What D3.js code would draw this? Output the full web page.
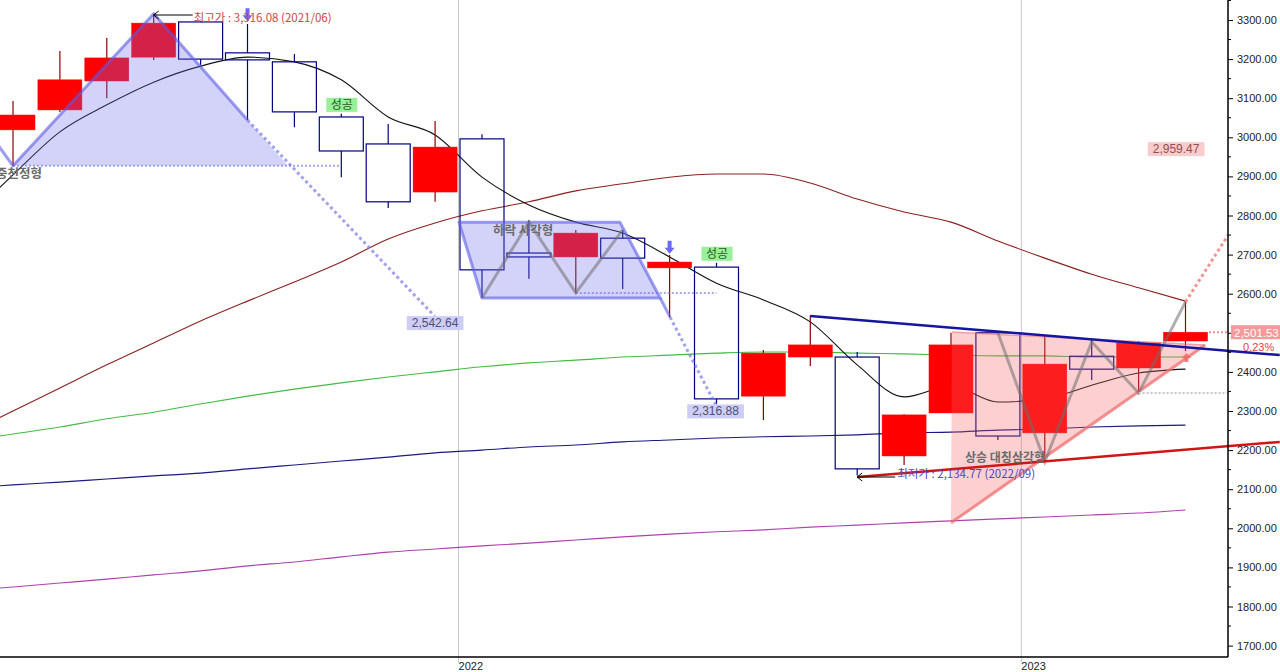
<!DOCTYPE html>
<html>
<head>
<meta charset="utf-8">
<script src="https://cdn.jsdelivr.net/npm/d3@7"></script>
<style>
body { margin: 0; background: #fff; }
svg { display: block; }
text { font-family: "Liberation Sans", Arial, "Noto Sans CJK KR", sans-serif; }
.kr { font-family: "Noto Sans CJK KR", "Liberation Sans", sans-serif; }
</style>
</head>
<body>
<div id="chart"></div>
<script>
// monthly candles, 2021/03 .. 2023/04 (index 0..25)
var months = ["2021/03","2021/04","2021/05","2021/06","2021/07","2021/08","2021/09","2021/10","2021/11","2021/12",
              "2022/01","2022/02","2022/03","2022/04","2022/05","2022/06","2022/07","2022/08","2022/09","2022/10",
              "2022/11","2022/12","2023/01","2023/02","2023/03","2023/04"];
var opens  = [3019, 3070, 3144, 3205, 3295, 3216, 3193, 3052, 2983, 2860, 2996, 2704, 2694, 2742, 2666, 2668, 2338, 2438, 2438, 2185, 2295, 2500, 2244, 2440, 2410, 2479];
var highs  = [3093, 3221, 3254, 3316.08, 3296, 3290, 3213, 3060, 3034, 3042, 3008, 2788, 2763, 2763, 2699, 2679, 2456, 2545, 2451, 2292, 2500, 2502, 2494, 2484, 2479, 2579];
var lows   = [2927, 3065, 3100, 3198, 3185, 3044, 3026, 2898, 2819, 2835, 2589, 2638, 2602, 2612, 2540, 2316.88, 2277, 2415, 2134.77, 2162, 2295, 2226, 2170, 2379, 2343, 2453];
var closes = [3057, 3147, 3203, 3292, 3200, 3198, 3065, 2965, 2835, 2975, 2661, 2694, 2755, 2691, 2681, 2331, 2448, 2469, 2152, 2290, 2469, 2236, 2420, 2407, 2474, 2501.53];

// moving averages, index -1 .. 25
var maStart = -1;
var ma5   = [2788, 2904, 3014, 3083, 3141, 3182, 3205, 3193, 3147, 3052, 3006, 2898, 2827, 2783, 2755, 2694, 2627, 2584, 2528, 2418, 2336, 2364, 2323, 2331, 2366, 2397, 2407];
var ma20  = [2241, 2300, 2359, 2418, 2474, 2530, 2581, 2630, 2681, 2740, 2781, 2812, 2835, 2863, 2881, 2898, 2906, 2906, 2883, 2842, 2809, 2783, 2735, 2691, 2650, 2615, 2581];
var ma60  = [2223, 2241, 2259, 2280, 2297, 2318, 2338, 2356, 2372, 2387, 2400, 2413, 2423, 2430, 2438, 2443, 2448, 2451, 2451, 2448, 2446, 2443, 2441, 2441, 2438, 2438, 2438];
var ma120 = [2103, 2111, 2118, 2126, 2134, 2141, 2152, 2162, 2172, 2182, 2193, 2200, 2208, 2213, 2221, 2226, 2231, 2234, 2236, 2239, 2244, 2246, 2251, 2254, 2259, 2262, 2264];
var ma240 = [1840, 1850, 1860, 1870, 1881, 1891, 1904, 1914, 1927, 1939, 1947, 1955, 1962, 1970, 1978, 1985, 1991, 1996, 2003, 2008, 2014, 2019, 2024, 2029, 2034, 2039, 2047];

// pattern annotations as [month index, price]
var topLine   = [[-1, 3093], [0, 2927], [3, 3316.08], [5, 3044]];
var topProj   = [[5, 3044], [8.99, 2542.64]];
var topFill   = [[0, 2927], [3, 3316.08], [5.86, 2927]];
var topNeck   = [[0, 2927], [6.97, 2927]];
var rectFill  = [[9.51, 2783], [12.94, 2783], [13.8, 2589], [10, 2589]];
var rectExt   = [[13.8, 2589], [14.01, 2540]];
var rectProj  = [[14.01, 2540], [14.98, 2316.88]];
var rectZig   = [[10, 2589], [11, 2783], [12, 2602], [13, 2763]];
var rectNeck  = [[12, 2602], [15, 2602]];
var triFill   = [[20.02, 2502], [25.42, 2469], [20, 2014]];
var triUpper  = [[20.02, 2502], [25.42, 2469]];
var triLower  = [[20, 2014], [25.42, 2469]];
var triZig    = [[21, 2500], [22, 2170], [23, 2477], [24, 2346], [25, 2579]];
var triProj   = [[25, 2579], [25.91, 2750]];
var trendHigh = [[17, 2543], [27.01, 2443]];
var trendLow  = [[18, 2131], [27.01, 2221]];

var patternNames = ["이중천정형", "하락 사각형", "상승 대칭삼각형"];
var successMonths = [7, 15];
var downArrowAt = [[5, 3297], [14, 2702]];
var targetValues = [2542.64, 2316.88, 2959.47];
var lastPrice = 2501.53;
var lastChange = "0.23%";
var yTicks = d3.range(1700, 3301, 100);
var yMinor = d3.range(1750, 3351, 100);
var yearStarts = [[10, "2022"], [22, "2023"]];

var width = 1280, height = 672;
var axisX = 1228, axisBottom = 657;

var svg = d3.select("#chart").append("svg")
    .attr("width", width)
    .attr("height", height);

var x = d3.scaleLinear().domain([0, 25]).range([13, 1185.5]);
var y = d3.scaleLinear().domain([1700, 3300]).range([645.6, 20]);
var line = d3.line().x(function(d) { return x(d[0]); }).y(function(d) { return y(d[1]); });
var smooth = d3.line().curve(d3.curveMonotoneX).x(function(d) { return x(d[0]); }).y(function(d) { return y(d[1]); });

svg.append("clipPath").attr("id", "plot")
  .append("rect").attr("x", 0).attr("y", 0).attr("width", axisX).attr("height", axisBottom);

// year grid lines
svg.selectAll(".grid").data(yearStarts).enter().append("line")
    .attr("x1", function(d) { return x(d[0] - 0.5); })
    .attr("x2", function(d) { return x(d[0] - 0.5); })
    .attr("y1", 0).attr("y2", axisBottom + 6)
    .attr("stroke", "#c8c8c8").attr("stroke-width", 1);

var plot = svg.append("g").attr("clip-path", "url(#plot)");

// moving averages
function maPts(arr) { return arr.map(function(v, k) { return [k + maStart, v]; }); }
var maList = [[ma240, "#b040b0"], [ma120, "#1a1a80"], [ma60, "#44bb44"], [ma20, "#8b2020"], [ma5, "#111"]];
maList.forEach(function(m) {
  plot.append("path").attr("d", smooth(maPts(m[0])))
    .attr("fill", "none").attr("stroke", m[1]).attr("stroke-width", 1.1);
});

// candles
var bw = 44;
var candles = plot.selectAll(".candle").data(months).enter().append("g");
candles.each(function(d, i) {
  var g = d3.select(this);
  var up = closes[i] >= opens[i];
  var col = up ? "#ff0000" : "#000080";
  var top = y(Math.max(opens[i], closes[i])), bot = y(Math.min(opens[i], closes[i]));
  var wick = up ? "#8b0000" : "#000080";
  g.append("line").attr("x1", x(i)).attr("x2", x(i)).attr("y1", y(highs[i])).attr("y2", top)
    .attr("stroke", wick).attr("stroke-width", 1.2);
  g.append("line").attr("x1", x(i)).attr("x2", x(i)).attr("y1", bot).attr("y2", y(lows[i]))
    .attr("stroke", wick).attr("stroke-width", 1.2);
  g.append("rect")
    .attr("x", x(i) - bw / 2).attr("y", top)
    .attr("width", bw).attr("height", Math.max(bot - top, 1.5))
    .attr("fill", up ? "#ff0000" : "none")
    .attr("stroke", col).attr("stroke-width", up ? 0.5 : 1.2);
});

// pattern 1 : double top
plot.append("path").attr("d", line(topFill) + "Z").attr("fill", "rgba(110,110,240,0.3)");
plot.append("path").attr("d", line(topNeck)).attr("fill", "none")
    .attr("stroke", "rgba(110,110,230,0.6)").attr("stroke-width", 2).attr("stroke-dasharray", "2,2");
plot.append("path").attr("d", line(topLine)).attr("fill", "none")
    .attr("stroke", "rgba(90,90,230,0.6)").attr("stroke-width", 3).attr("stroke-linejoin", "round");
plot.append("path").attr("d", line(topProj)).attr("fill", "none")
    .attr("stroke", "rgba(110,110,230,0.65)").attr("stroke-width", 3).attr("stroke-dasharray", "3,3");

// pattern 2 : descending rectangle
plot.append("path").attr("d", line(rectFill) + "Z").attr("fill", "rgba(110,110,240,0.3)")
    .attr("stroke", "rgba(90,90,230,0.6)").attr("stroke-width", 3).attr("stroke-linejoin", "round");
plot.append("path").attr("d", line(rectExt)).attr("fill", "none")
    .attr("stroke", "rgba(90,90,230,0.6)").attr("stroke-width", 3);
plot.append("path").attr("d", line(rectProj)).attr("fill", "none")
    .attr("stroke", "rgba(110,110,230,0.65)").attr("stroke-width", 3).attr("stroke-dasharray", "3,3");
plot.append("path").attr("d", line(rectNeck)).attr("fill", "none")
    .attr("stroke", "rgba(110,110,230,0.6)").attr("stroke-width", 2).attr("stroke-dasharray", "2,2");
plot.append("path").attr("d", line(rectZig)).attr("fill", "none")
    .attr("stroke", "rgba(110,110,110,0.55)").attr("stroke-width", 3);

// pattern 3 : ascending symmetric triangle
plot.append("path").attr("d", line(triFill) + "Z").attr("fill", "rgba(245,100,100,0.3)");
plot.append("path").attr("d", line(triUpper)).attr("fill", "none")
    .attr("stroke", "rgba(240,110,110,0.6)").attr("stroke-width", 1.5);
plot.append("path").attr("d", line(triLower)).attr("fill", "none")
    .attr("stroke", "rgba(240,110,110,0.75)").attr("stroke-width", 3);
plot.append("path").attr("d", line(triZig)).attr("fill", "none")
    .attr("stroke", "rgba(110,110,110,0.55)").attr("stroke-width", 3);
plot.append("path").attr("d", line(triProj)).attr("fill", "none")
    .attr("stroke", "rgba(240,110,110,0.75)").attr("stroke-width", 3).attr("stroke-dasharray", "3,3");

// horizontal dotted guides
svg.append("line").attr("x1", x(24)).attr("x2", axisX).attr("y1", y(2346)).attr("y2", y(2346))
    .attr("stroke", "#c8c8c8").attr("stroke-width", 2).attr("stroke-dasharray", "2,2");
svg.append("line").attr("x1", x(25.5)).attr("x2", axisX).attr("y1", y(lastPrice)).attr("y2", y(lastPrice))
    .attr("stroke", "#f09090").attr("stroke-width", 2).attr("stroke-dasharray", "2,2");

// trend lines
svg.append("path").attr("d", line(trendHigh)).attr("stroke", "#1515a0").attr("stroke-width", 2.5).attr("fill", "none");
svg.append("path").attr("d", line(trendLow)).attr("stroke", "#d01515").attr("stroke-width", 2.5).attr("fill", "none");

// pink up arrow on the triangle
var pa = [x(25.02), y(2443)];
svg.append("path")
    .attr("d", "M" + pa[0] + "," + (pa[1] - 2) + " l-5,5 h3 v4 h4 v-4 h3 Z")
    .attr("fill", "rgba(240,100,100,0.8)");

// blue down arrows
downArrowAt.forEach(function(a) {
  var ax = x(a[0]), ay = y(a[1]);
  svg.append("path")
    .attr("d", "M" + ax + "," + ay + " l-5,-6 h3 v-7 h4 v7 h3 Z")
    .attr("fill", "#6a6af5");
});

// success tags
successMonths.forEach(function(m) {
  var cx = x(m), by = y(highs[m]) - 2;
  svg.append("rect").attr("x", cx - 15).attr("y", by - 14).attr("width", 31).attr("height", 14).attr("fill", "#98f098");
  svg.append("text").attr("class", "kr").attr("x", cx + 0.5).attr("y", by - 2.5)
    .attr("text-anchor", "middle").attr("font-size", 12).attr("fill", "#2a5a2a").text("성공");
});

// value boxes
function tag(cx, top, txt, bg, fg) {
  var t = svg.append("text").attr("x", cx).attr("y", top + 11).attr("text-anchor", "middle")
      .attr("font-size", 12).attr("fill", fg).text(txt);
  var w = t.node().getComputedTextLength() + 10;
  svg.insert("rect", "text").attr("x", cx - w / 2).attr("y", top).attr("width", w).attr("height", 14).attr("fill", bg);
}
var fmt = d3.format(",.2f");
tag(x(9), y(targetValues[0]), fmt(targetValues[0]), "#cdcdf5", "#505070");
tag(x(14.98), y(targetValues[1]), fmt(targetValues[1]), "#cdcdf5", "#505070");
tag(x(24.8), y(targetValues[2]) - 11, fmt(targetValues[2]), "#f8cccc", "#905050");

// high / low notes
var hx = x(3), hy = 15;
svg.append("line").attr("x1", hx).attr("x2", hx + 39).attr("y1", hy).attr("y2", hy).attr("stroke", "#000").attr("stroke-width", 1);
svg.append("path").attr("d", "M" + (hx + 5) + "," + (hy - 4) + " L" + hx + "," + hy + " L" + (hx + 5) + "," + (hy + 4))
    .attr("fill", "none").attr("stroke", "#000");
svg.append("text").attr("class", "kr").attr("x", hx + 40).attr("y", hy + 7).attr("font-size", 11.5).attr("fill", "#c84848")
    .text("최고가 : " + fmt(highs[3]) + " (" + months[3] + ")");
var lx = x(18), ly = 477;
svg.append("line").attr("x1", lx).attr("x2", lx + 38).attr("y1", ly).attr("y2", ly).attr("stroke", "#000").attr("stroke-width", 1);
svg.append("path").attr("d", "M" + (lx + 5) + "," + (ly - 4) + " L" + lx + "," + ly + " L" + (lx + 5) + "," + (ly + 4))
    .attr("fill", "none").attr("stroke", "#000");
svg.append("text").attr("class", "kr").attr("x", lx + 40).attr("y", ly + 1).attr("font-size", 11.5).attr("fill", "#4848c8")
    .text("최저가 : " + fmt(lows[18]) + " (" + months[18] + ")");

// pattern names
svg.append("text").attr("class", "kr").attr("x", 42).attr("y", 178).attr("text-anchor", "end")
    .attr("font-size", 12.5).attr("font-weight", 700).attr("fill", "#6a6a6a").text(patternNames[0]);
svg.append("text").attr("class", "kr").attr("x", 493).attr("y", 235)
    .attr("font-size", 12.5).attr("font-weight", 700).attr("fill", "#6a6a6a").text(patternNames[1]);
svg.append("text").attr("class", "kr").attr("x", 965).attr("y", 462)
    .attr("font-size", 12).attr("font-weight", 700).attr("fill", "#6a6a6a").text(patternNames[2]);

// axes
svg.append("line").attr("x1", 0).attr("x2", axisX).attr("y1", axisBottom).attr("y2", axisBottom)
    .attr("stroke", "#000").attr("stroke-width", 1.5);
var yAxisG = svg.append("g").attr("transform", "translate(" + axisX + ",0)");
yAxisG.call(d3.axisRight(y).tickValues(yTicks)
    .tickFormat(function(d) { return Math.abs(d - lastPrice) < 30 ? "" : d3.format(".2f")(d); })
    .tickSize(5).tickPadding(4));
yAxisG.select(".domain").attr("d", "M0,0V" + axisBottom).attr("stroke-width", 1.5);
yAxisG.selectAll("text").attr("font-size", 11).attr("fill", "#222").attr("font-family", "Liberation Sans, Arial, sans-serif");
yAxisG.selectAll(".minor").data(yMinor).enter().append("line")
    .attr("x1", 0).attr("x2", 3).attr("y1", function(d) { return y(d); }).attr("y2", function(d) { return y(d); })
    .attr("stroke", "#000");

svg.selectAll(".year").data(yearStarts).enter().append("text")
    .attr("x", function(d) { return x(d[0] - 0.5); })
    .attr("y", 670).attr("font-size", 11).attr("fill", "#222")
    .text(function(d) { return d[1]; });

// last price tag
svg.append("rect").attr("x", 1231).attr("y", y(lastPrice) - 7).attr("width", 49).attr("height", 14).attr("fill", "#f49a9a");
svg.append("text").attr("x", 1234).attr("y", y(lastPrice) + 4.5).attr("font-size", 11.5).attr("fill", "#fff").text(fmt(lastPrice));
svg.append("text").attr("x", 1243).attr("y", y(lastPrice) + 19).attr("font-size", 11).attr("fill", "#e04040").text(lastChange);
</script>
</body>
</html>
